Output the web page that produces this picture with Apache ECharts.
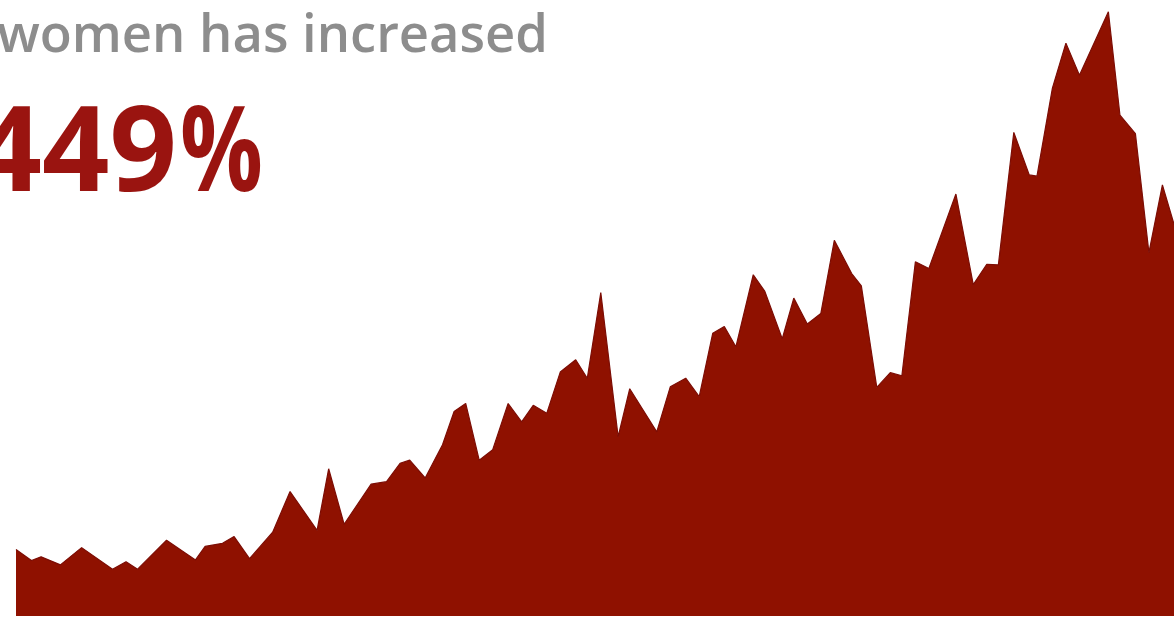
<!DOCTYPE html>
<html>
<head>
<meta charset="utf-8">
<script src="https://cdn.jsdelivr.net/npm/echarts@6/dist/echarts.min.js"></script>
<style>
  html, body { margin: 0; padding: 0; background: #ffffff; }
  #chart { width: 1174px; height: 619px; }
</style>
</head>
<body>
<div id="chart"></div>
<script>
// Time position of each observation, in weeks from the start of the series
const weeks = [
  0, 8, 13, 23, 34, 50, 57, 63, 78, 93,
  98, 107, 113, 121, 133, 142, 156, 162, 170, 184,
  192, 199, 204, 212, 221, 227, 233, 240, 247, 255,
  262, 268, 275, 282, 290, 296, 303, 312, 318, 332,
  339, 347, 354, 361, 367, 373, 382, 388, 397, 403,
  410, 417, 424, 433, 438, 446, 453, 459, 466, 473,
  487, 496, 503, 509, 517, 525, 529, 537, 544, 551,
  566, 572, 580, 587, 594, 600
];

// Level at each observation (index scale, 0–100)
const levels = [
  10.8, 9.0, 9.6, 8.3, 11.1, 7.6, 8.8, 7.6, 12.3, 9.1,
  11.3, 11.8, 12.9, 9.3, 13.6, 20.2, 13.9, 23.9, 14.9, 21.4,
  21.8, 24.8, 25.3, 22.4, 27.8, 33.2, 34.5, 25.3, 27.0, 34.5,
  31.5, 34.2, 32.9, 39.6, 41.6, 38.6, 52.5, 29.1, 36.9, 29.9,
  37.2, 38.6, 35.6, 45.9, 47.0, 43.7, 55.4, 52.7, 45.0, 51.6,
  47.4, 49.1, 61.0, 55.6, 53.6, 37.1, 39.5, 39.0, 57.5, 56.4,
  68.5, 53.8, 57.1, 57.0, 78.5, 71.6, 71.4, 85.7, 93.0, 87.8,
  98.1, 81.3, 78.3, 59.0, 70.0, 63.6
];

const subtitleText = 'women has increased';
const headlineNumber = '449';
const headlineUnit = '%';

const seriesData = weeks.map((w, i) => [w, levels[i]]);

const chart = echarts.init(document.getElementById('chart'), null, { renderer: 'canvas' });

const headlineFont = '700 118px "Open Sans", sans-serif';
const headlineColor = '#9a1410';

chart.setOption({
  backgroundColor: '#ffffff',
  animation: false,
  grid: { left: 16, right: 0, top: 0, bottom: 3 },
  xAxis: {
    type: 'value',
    min: 0,
    max: 600,
    show: false
  },
  yAxis: {
    type: 'value',
    min: 0,
    max: 100,
    show: false
  },
  series: [{
    type: 'line',
    data: seriesData,
    symbol: 'none',
    smooth: false,
    lineStyle: { color: '#7c0d05', width: 1.2 },
    areaStyle: { color: '#8f1100', opacity: 1 },
    silent: true
  }],
  graphic: [
    {
      type: 'text',
      x: 548,
      y: 11,
      style: {
        text: subtitleText,
        fill: '#8d8d8d',
        font: '600 52.5px "Open Sans", sans-serif',
        textAlign: 'right',
        textVerticalAlign: 'top'
      }
    },
    {
      // big figure: digits
      type: 'text',
      x: 177,
      y: 98,
      style: {
        text: headlineNumber,
        fill: headlineColor,
        font: headlineFont,
        textAlign: 'right',
        textVerticalAlign: 'top'
      }
    },
    {
      // big figure: percent sign, slightly condensed
      type: 'text',
      x: 180,
      y: 98,
      scaleX: 0.78,
      style: {
        text: headlineUnit,
        fill: headlineColor,
        font: headlineFont,
        textAlign: 'left',
        textVerticalAlign: 'top'
      }
    }
  ]
});
</script>
</body>
</html>
